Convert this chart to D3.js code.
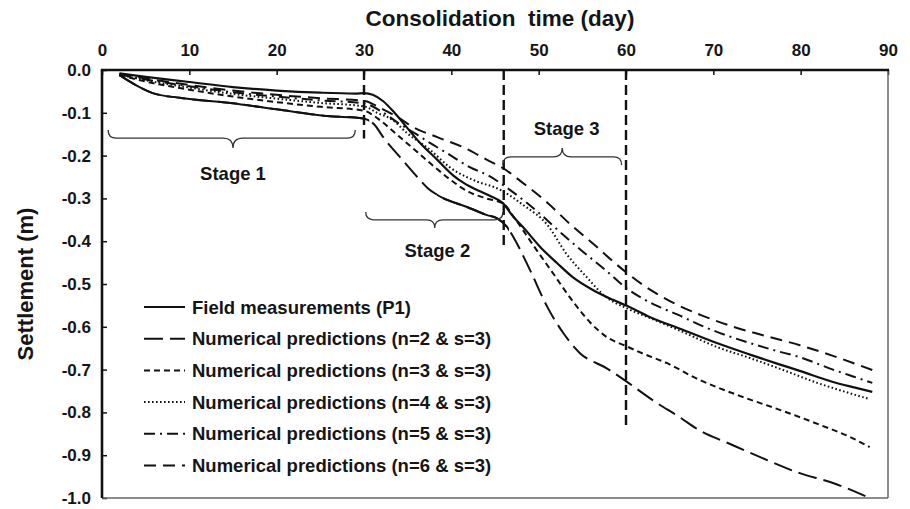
<!DOCTYPE html>
<html>
<head>
<meta charset="utf-8">
<script src="https://cdn.jsdelivr.net/npm/d3@7"></script>
<style>
  body { margin: 0; background: #fff; }
  svg { display: block; }
  text { font-family: "Liberation Sans", Arial, Helvetica, sans-serif; font-weight: bold; fill: #151515; }
</style>
</head>
<body>
<svg id="chart" width="910" height="509"></svg>
<script>
// Axis ticks
const xTicks = [0, 10, 20, 30, 40, 50, 60, 70, 80, 90];
const yTicks = [0, -0.1, -0.2, -0.3, -0.4, -0.5, -0.6, -0.7, -0.8, -0.9, -1.0];
const yTickLabels = ["0.0", "-0.1", "-0.2", "-0.3", "-0.4", "-0.5", "-0.6", "-0.7", "-0.8", "-0.9", "-1.0"];

// Field measurements (P1): day, settlement (m)
const fieldDays =   [2, 5, 10, 15, 20, 25, 29, 30, 31, 32.2, 33.5, 34.9, 36.4, 38.4, 40.2, 41.5, 43, 44.4, 45.9, 47.1, 48.2, 50.2, 52.1, 53.9, 56.2, 58.5, 60.1, 62.7, 66.5, 70.4, 74.2, 77.3, 79.9, 83.7, 86, 88.2];
const fieldSettle = [-0.008, -0.016, -0.028, -0.040, -0.048, -0.053, -0.055, -0.054, -0.058, -0.073, -0.100, -0.134, -0.170, -0.210, -0.246, -0.265, -0.281, -0.294, -0.311, -0.343, -0.367, -0.414, -0.451, -0.484, -0.514, -0.537, -0.551, -0.577, -0.607, -0.638, -0.665, -0.686, -0.703, -0.729, -0.741, -0.752];

// Numerical predictions (n=2 & s=3)
const n2Days =   [2, 4.3, 5.8, 8.9, 14.7, 20.4, 26.1, 29.5, 30.5, 31.2, 32.2, 34.1, 36.1, 37.3, 38.4, 41.8, 44.1, 45.2, 46.4, 47.1, 49, 51, 52.8, 54.7, 57.8, 60, 63.1, 66.2, 68.5, 71.6, 75.3, 79.9, 83.7, 87.9];
const n2Settle = [-0.012, -0.040, -0.054, -0.065, -0.077, -0.093, -0.108, -0.112, -0.117, -0.128, -0.157, -0.203, -0.250, -0.276, -0.292, -0.320, -0.339, -0.346, -0.367, -0.390, -0.467, -0.554, -0.614, -0.661, -0.697, -0.727, -0.772, -0.812, -0.843, -0.871, -0.904, -0.942, -0.965, -1.0];
// Spans (days) where the n=2 trace is drawn continuous
const n2SolidSpans = [[1, 30.6], [38.3, 46.6]];

// Numerical predictions (n=3 & s=3)
const n3Days =   [2, 5, 10, 15, 20, 25, 30, 31, 32, 34, 36, 38, 40, 42, 44, 46, 47.2, 49.4, 51.3, 53.9, 55.9, 57.8, 60, 62, 64.7, 68, 73.1, 77.6, 82.2, 85.6, 87.9];
const n3Settle = [-0.012, -0.027, -0.046, -0.062, -0.075, -0.086, -0.095, -0.105, -0.120, -0.155, -0.190, -0.225, -0.258, -0.285, -0.300, -0.313, -0.345, -0.410, -0.465, -0.540, -0.590, -0.624, -0.645, -0.663, -0.685, -0.720, -0.762, -0.794, -0.829, -0.857, -0.881];

// Numerical predictions (n=4 & s=3)
const n4Days =   [2, 5, 10, 15, 20, 25, 30, 31.5, 33.3, 34.9, 37.6, 39.8, 42.5, 45.6, 48.2, 51, 53.2, 55.5, 57.5, 60.1, 62.7, 66.5, 70.4, 74.2, 78, 81.9, 85.6, 87.9];
const n4Settle = [-0.011, -0.024, -0.041, -0.056, -0.067, -0.077, -0.085, -0.100, -0.117, -0.147, -0.187, -0.227, -0.257, -0.280, -0.315, -0.362, -0.430, -0.484, -0.527, -0.557, -0.579, -0.612, -0.647, -0.673, -0.701, -0.731, -0.755, -0.769];

// Numerical predictions (n=5 & s=3)
const n5Days =   [2, 5, 10, 15, 20, 25, 30, 32, 34, 36, 37.6, 39.5, 42.1, 44.1, 46.7, 49.8, 52.8, 55.1, 57.8, 60, 62, 64, 66.5, 68.5, 71.5, 74.2, 77, 79.9, 83.7, 86, 88.2];
const n5Settle = [-0.010, -0.022, -0.038, -0.052, -0.062, -0.071, -0.078, -0.097, -0.125, -0.150, -0.171, -0.194, -0.227, -0.245, -0.280, -0.330, -0.385, -0.425, -0.470, -0.509, -0.535, -0.555, -0.577, -0.596, -0.620, -0.638, -0.655, -0.671, -0.700, -0.716, -0.731];

// Numerical predictions (n=6 & s=3)
const n6Days =   [2, 5, 10, 15, 20, 25, 30, 32, 34, 35.6, 38.4, 41.3, 44.1, 45.9, 48.2, 51, 53.7, 56.7, 58.5, 60.1, 62, 63.9, 65.8, 68.5, 72.3, 76.1, 79.9, 83.7, 88.2];
const n6Settle = [-0.010, -0.020, -0.035, -0.048, -0.058, -0.066, -0.072, -0.090, -0.112, -0.133, -0.157, -0.180, -0.210, -0.229, -0.264, -0.310, -0.362, -0.414, -0.447, -0.474, -0.503, -0.527, -0.548, -0.572, -0.600, -0.622, -0.643, -0.668, -0.701];

// Stage boundaries (day, lower end of the marker line in m)
const stageDays = [30, 46, 60];
const stageLineEnds = [-0.16, -0.42, -0.83];

// Stage braces: start day, end day, tip day, end level, bar level, tip level
const braceStart = [0.7, 30.2, 45.9];
const braceEnd   = [29.0, 45.9, 59.5];
const braceTip   = [15.0, 38.1, 52.7];
const braceEndY  = [-0.140, -0.332, -0.222];
const braceBarY  = [-0.159, -0.350, -0.203];
const braceTipY  = [-0.182, -0.369, -0.182];
const stageNames = ["Stage 1", "Stage 2", "Stage 3"];
const stageLabelDay = [15.0, 38.4, 53.2];
const stageLabelY   = [-0.257, -0.437, -0.152];

const legendLabels = [
  "Field measurements (P1)",
  "Numerical predictions (n=2 & s=3)",
  "Numerical predictions (n=3 & s=3)",
  "Numerical predictions (n=4 & s=3)",
  "Numerical predictions (n=5 & s=3)",
  "Numerical predictions (n=6 & s=3)"
];

const W = 910, H = 509;
const plot = { left: 102, top: 70, right: 888, bottom: 498 };

const svg = d3.select("#chart");
const x = d3.scaleLinear().domain([0, 90]).range([plot.left, plot.right]);
const y = d3.scaleLinear().domain([0, -1]).range([plot.top, plot.bottom]);

// Series definitions with line styles
const series = [
  { days: fieldDays, vals: fieldSettle, dash: null,           width: 2.2 },
  { days: n2Days,    vals: n2Settle,    dash: "19,7",         width: 2.0 },
  { days: n3Days,    vals: n3Settle,    dash: "6,4",          width: 2.0 },
  { days: n4Days,    vals: n4Settle,    dash: "1.6,2.4",      width: 2.0 },
  { days: n5Days,    vals: n5Settle,    dash: "11,5,2,5",     width: 2.0 },
  { days: n6Days,    vals: n6Settle,    dash: "12,7",         width: 2.0 }
];

const line = d3.line()
  .x(d => x(d[0]))
  .y(d => y(d[1]))
  .curve(d3.curveMonotoneX);

// Clip for the continuous parts of the n=2 trace
const defs = svg.append("defs");
const clip = defs.append("clipPath").attr("id", "n2solid");
n2SolidSpans.forEach(s => {
  clip.append("rect")
    .attr("x", x(s[0])).attr("width", x(s[1]) - x(s[0]))
    .attr("y", 0).attr("height", H);
});

// Curves
const curves = svg.append("g").attr("fill", "none").attr("stroke", "#111");
series.forEach(s => {
  const pts = s.days.map((d, i) => [d, s.vals[i]]);
  curves.append("path")
    .attr("d", line(pts))
    .attr("stroke-width", s.width)
    .attr("stroke-dasharray", s.dash);
});
{
  const pts = n2Days.map((d, i) => [d, n2Settle[i]]);
  curves.append("path")
    .attr("d", line(pts))
    .attr("stroke-width", 2.0)
    .attr("clip-path", "url(#n2solid)");
}

// Stage boundary lines
svg.append("g").selectAll("line").data(stageDays).join("line")
  .attr("x1", d => x(d)).attr("x2", d => x(d))
  .attr("y1", y(0)).attr("y2", (d, i) => y(stageLineEnds[i]))
  .attr("stroke", "#111").attr("stroke-width", 2.4)
  .attr("stroke-dasharray", "10,5");

// Braces
const braceG = svg.append("g").attr("fill", "none").attr("stroke", "#333").attr("stroke-width", 1.3);
stageNames.forEach((name, i) => {
  const x0 = x(braceStart[i]), x1 = x(braceEnd[i]), xt = x(braceTip[i]);
  const ye = y(braceEndY[i]), yb = y(braceBarY[i]), yt = y(braceTipY[i]);
  const r = Math.abs(yb - ye);
  const s = Math.abs(yt - yb);
  const p = d3.path();
  p.moveTo(x0, ye);
  p.quadraticCurveTo(x0, yb, x0 + r, yb);
  p.lineTo(xt - s, yb);
  p.quadraticCurveTo(xt, yb, xt, yt);
  p.quadraticCurveTo(xt, yb, xt + s, yb);
  p.lineTo(x1 - r, yb);
  p.quadraticCurveTo(x1, yb, x1, ye);
  braceG.append("path").attr("d", p.toString());
  svg.append("text")
    .attr("x", x(stageLabelDay[i])).attr("y", y(stageLabelY[i]))
    .attr("text-anchor", "middle")
    .attr("font-size", 18.5)
    .text(name);
});

// Axes
const xAxis = d3.axisTop(x).tickValues(xTicks).tickSize(-5).tickPadding(14).tickFormat(d3.format("d"));
const gx = svg.append("g").attr("transform", `translate(0,${plot.top})`).call(xAxis);
gx.select(".domain").remove();
gx.selectAll(".tick line").attr("stroke", "#111").attr("stroke-width", 1.5);
gx.selectAll(".tick text").attr("font-size", 17).attr("font-family", null).attr("fill", "#151515");

const yAxis = d3.axisLeft(y).tickValues(yTicks).tickSize(-5).tickPadding(11)
  .tickFormat((d, i) => yTickLabels[i]);
const gy = svg.append("g").attr("transform", `translate(${plot.left},0)`).call(yAxis);
gy.select(".domain").remove();
gy.selectAll(".tick line").attr("stroke", "#111").attr("stroke-width", 1.5);
gy.selectAll(".tick text").attr("font-size", 17).attr("font-family", null).attr("fill", "#151515");

// Frame: heavy top/left axes, light right/bottom edges
svg.append("line").attr("x1", plot.right).attr("x2", plot.right).attr("y1", plot.top).attr("y2", plot.bottom)
  .attr("stroke", "#666").attr("stroke-width", 1.5);
svg.append("line").attr("x1", plot.left).attr("x2", plot.right).attr("y1", plot.bottom).attr("y2", plot.bottom)
  .attr("stroke", "#666").attr("stroke-width", 1.5);
svg.append("line").attr("x1", plot.left - 1.2).attr("x2", plot.right + 1).attr("y1", plot.top).attr("y2", plot.top)
  .attr("stroke", "#111").attr("stroke-width", 2.6);
svg.append("line").attr("x1", plot.left).attr("x2", plot.left).attr("y1", plot.top).attr("y2", plot.bottom)
  .attr("stroke", "#111").attr("stroke-width", 2.6);

// Axis titles
svg.append("text")
  .attr("x", 500).attr("y", 26)
  .attr("text-anchor", "middle").attr("font-size", 22.5)
  .attr("xml:space", "preserve")
  .text("Consolidation  time (day)");
svg.append("text")
  .attr("transform", `translate(33,${(plot.top + plot.bottom) / 2}) rotate(-90)`)
  .attr("text-anchor", "middle").attr("font-size", 22)
  .text("Settlement (m)");

// Legend
const legend = svg.append("g").attr("transform", "translate(144,307)");
legendLabels.forEach((lab, i) => {
  const s = series[i];
  const row = legend.append("g").attr("transform", `translate(0,${i * 31.7})`);
  row.append("line").attr("x1", 0).attr("x2", 41).attr("y1", 0).attr("y2", 0)
    .attr("stroke", "#111").attr("stroke-width", s.width)
    .attr("stroke-dasharray", s.dash);
  row.append("text").attr("x", 48).attr("y", 0).attr("dy", "0.36em")
    .attr("font-size", 18.5).text(lab);
});
</script>
</body>
</html>
